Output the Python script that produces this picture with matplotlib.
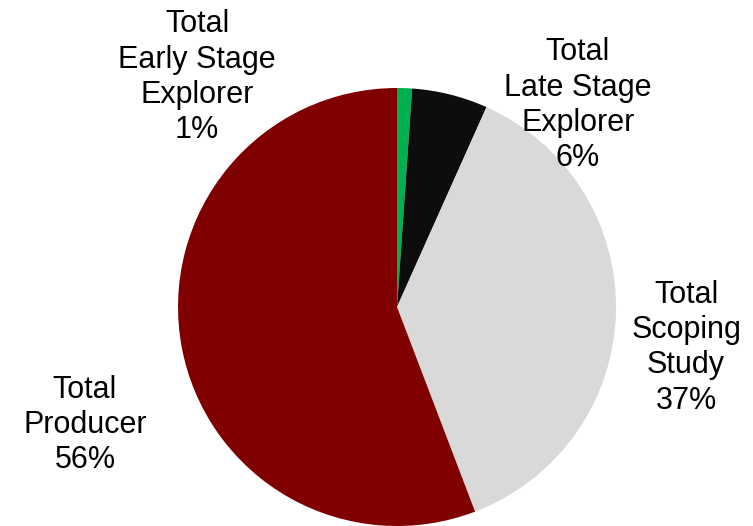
import matplotlib.pyplot as plt

# Share of total by development stage
labels = ["Total\nEarly Stage\nExplorer", "Total\nLate Stage\nExplorer",
          "Total\nScoping\nStudy", "Total\nProducer"]
shares = [1.1, 5.6, 37.5, 55.8]
pct_text = ["1%", "6%", "37%", "56%"]
colors = ["#00B050", "#0D0D0D", "#D9D9D9", "#800000"]

plt.rcParams["font.family"] = ["Liberation Sans", "DejaVu Sans"]

fig = plt.figure(figsize=(7.53, 5.26), dpi=100)
ax = fig.add_axes([0.2364, 0.0, 0.5817, 0.8327])

ax.pie(shares, colors=colors, startangle=90, counterclock=False,
       wedgeprops=dict(linewidth=0))
ax.set_xlim(-1, 1)
ax.set_ylim(-1, 1)
ax.set_aspect("equal")

# label positions in pie radius units
label_pos = [(-0.913, 1.05), (0.826, 0.922), (1.32, -0.187), (-1.425, -0.539)]
for lab, pct, (x, y) in zip(labels, pct_text, label_pos):
    ax.text(x, y, lab + "\n" + pct, ha="center", va="center",
            fontsize=22, linespacing=1.22, clip_on=False)

fig.savefig("out.png", dpi=100)
